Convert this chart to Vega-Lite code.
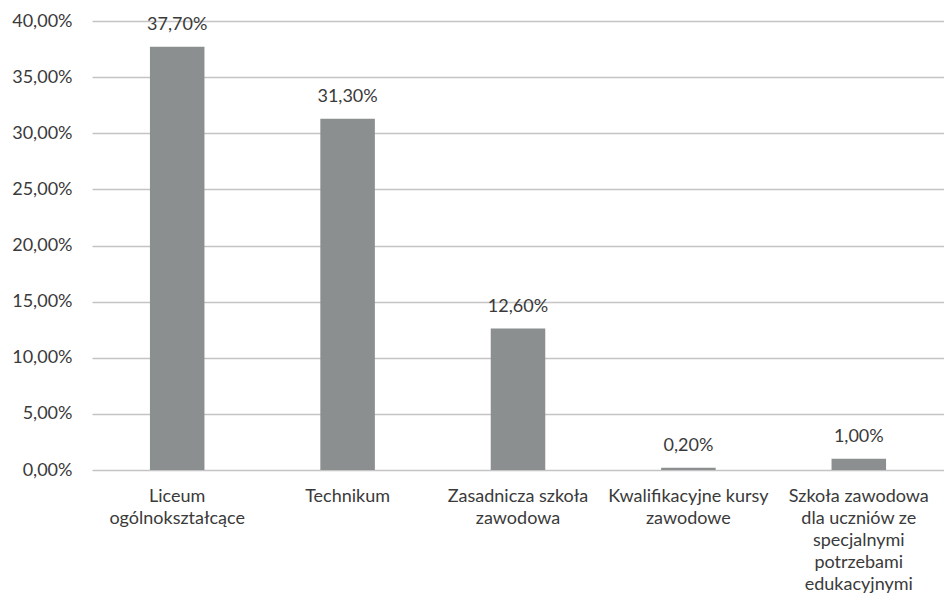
{
  "$schema": "https://vega.github.io/schema/vega-lite/v6.json",
  "autosize": {"type": "none"},
  "width": 852,
  "height": 449,
  "padding": {"left": 92, "top": 21, "right": 0, "bottom": 139},
  "background": "white",
  "config": {
    "locale": {"number": {"decimal": ",", "thousands": " ", "grouping": [3], "currency": ["", " zł"]}},
    "view": {"stroke": null},
    "font": "Lato"
  },
  "data": {
    "values": [
      {"kategoria": "Liceum|ogólnokształcące", "wartosc": 0.377},
      {"kategoria": "Technikum", "wartosc": 0.313},
      {"kategoria": "Zasadnicza szkoła|zawodowa", "wartosc": 0.126},
      {"kategoria": "Kwalifikacyjne kursy|zawodowe", "wartosc": 0.002},
      {"kategoria": "Szkoła zawodowa|dla uczniów ze|specjalnymi|potrzebami|edukacyjnymi", "wartosc": 0.01}
    ]
  },
  "encoding": {
    "x": {
      "field": "kategoria", "type": "nominal", "sort": null,
      "scale": {"paddingInner": 0.68, "paddingOuter": 0.34},
      "axis": {
        "title": null, "labelAngle": 0, "labelExpr": "split(datum.label, '|')",
        "labelFontSize": 18, "labelColor": "#3a3a3a", "labelLineHeight": 22,
        "ticks": false, "domain": false, "labelPadding": 17, "labelBaseline": "top",
        "labelLimit": 250
      }
    },
    "y": {
      "field": "wartosc", "type": "quantitative",
      "scale": {"domain": [0, 0.4], "nice": false},
      "axis": {
        "title": null, "format": ".2%", "values": [0, 0.05, 0.1, 0.15, 0.2, 0.25, 0.3, 0.35, 0.4],
        "labelFontSize": 18, "labelColor": "#3a3a3a", "labelPadding": 20, "labelOverlap": false,
        "ticks": false, "domain": false,
        "gridColor": "#c4c4c4", "gridWidth": 1.3
      }
    }
  },
  "layer": [
    {"mark": {"type": "bar", "color": "#8c8f8f"}},
    {
      "mark": {"type": "text", "baseline": "bottom", "dy": -13, "fontSize": 18, "color": "#3a3a3a"},
      "encoding": {"text": {"field": "wartosc", "type": "quantitative", "format": ".2%"}}
    }
  ]
}
